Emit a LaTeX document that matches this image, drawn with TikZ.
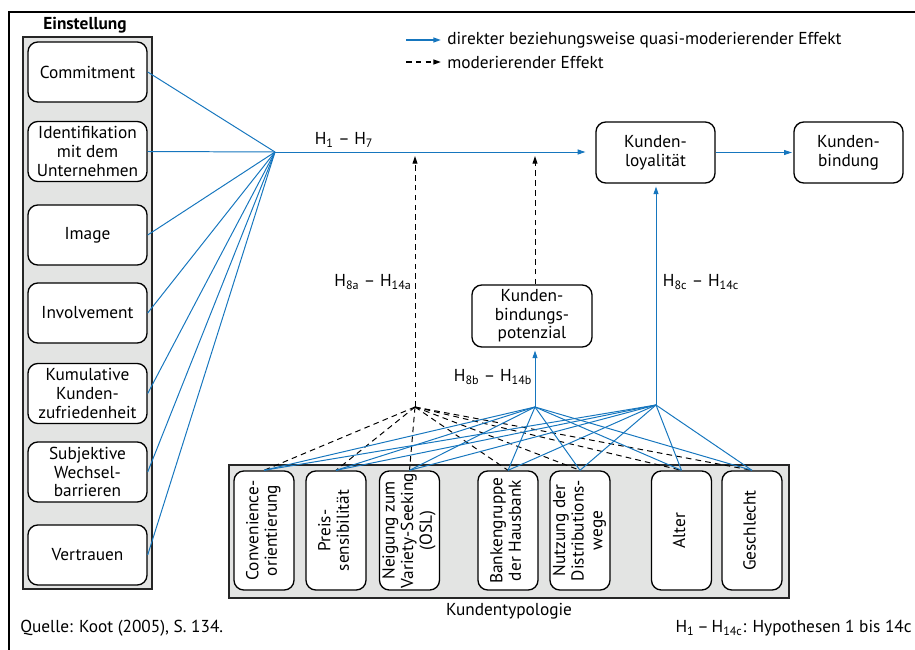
\documentclass[tikz,border=0pt]{standalone}
\usepackage{fontspec}
\setmainfont{PT Sans}
\usepackage{graphicx}
\usetikzlibrary{arrows.meta}
\definecolor{lblue}{RGB}{22,118,190}
\definecolor{boxgray}{RGB}{227,228,227}
\newcommand{\vtext}[1]{\rotatebox{90}{\begin{tabular}{@{}c@{}}#1\end{tabular}}}
\begin{document}
\begin{tikzpicture}[x=0.025cm,y=-0.025cm,
  every node/.style={font=\fontsize{12.3}{13.2}\selectfont},
  container/.style={draw=black!85, fill=boxgray, line width=0.9pt, inner sep=0pt},
  rbox/.style={draw, fill=white, rounded corners=7pt, line width=0.95pt, align=center, inner sep=0pt},
  lbox/.style={rbox, minimum width=2.975cm, minimum height=1.5cm},
  vbox/.style={rbox, minimum width=1.5cm, minimum height=2.975cm},
  bl/.style={draw=lblue, line width=0.7pt},
  dsh/.style={draw=black, line width=0.7pt, dash pattern=on 4pt off 3pt},
  tip/.style={-{Triangle[length=5.5pt,width=3.5pt]}},
  lbl/.style={inner sep=0pt}
]
\useasboundingbox (0,0) rectangle (915,650);
% frame
\draw[line width=0.8pt] (9,650) -- (9,12) -- (916,12);

% legend
\coordinate (la1) at (406,40); \coordinate (la2) at (441,40);
\coordinate (lb1) at (406,62); \coordinate (lb2) at (441,62);
\draw[bl,tip,line width=1.1pt] (la1) -- (la2);
\draw[dsh,tip,line width=1.1pt] (lb1) -- (lb2);
\node[lbl,anchor=west] (leg1) at (447,40) {direkter beziehungsweise quasi-moderierender Effekt};
\node[lbl,anchor=west] (leg2) at (447,62) {moderierender Effekt};

% Einstellung
\node[lbl,font=\fontsize{12.3}{13.2}\selectfont\bfseries] (einsttitle) at (85,25) {Einstellung};
\node[container, minimum width=3.225cm, minimum height=13.8cm] (einst) at (87.5,313) {};
\node[lbox] (commit) at (87.5,72) {Commitment};
\node[lbox] (ident) at (87.5,151.5) {Identifikation\\mit dem\\Unternehmen};
\node[lbox] (image) at (87.5,235) {Image};
\node[lbox] (invol) at (87.5,313) {Involvement};
\node[lbox] (kumul) at (87.5,393.5) {Kumulative\\Kunden-\\zufriedenheit};
\node[lbox] (subj) at (87.5,472) {Subjektive\\Wechsel-\\barrieren};
\node[lbox] (vertr) at (87.5,555) {Vertrauen};

% right boxes
\node[rbox, minimum width=2.975cm, minimum height=1.525cm] (loyal) at (655.5,152.5) {Kunden-\\loyalität};
\node[rbox, minimum width=2.725cm, minimum height=1.525cm] (bind) at (848.5,152.5) {Kunden-\\bindung};
\node[rbox, minimum width=3cm, minimum height=1.55cm] (kbp) at (532,316) {Kunden-\\bindungs-\\potenzial};

% hubs
\coordinate (h0) at (275,152);
\coordinate (h1) at (415,407);
\coordinate (h2) at (535,407);
\coordinate (h3) at (656,405);

% left fan
\foreach \n in {commit,image,invol,kumul,subj,vertr}
  \draw[bl] (\n.east) -- (h0);
\draw[bl] (ident.east) -- (h0);
\draw[bl,tip,shorten >=7pt] (h0) -- (h0 -| loyal.west);
\draw[bl,tip] (loyal.east) -- ([xshift=-1pt]bind.west);
\node[lbl] (lh17) at (344,140) {H\textsubscript{1} -- H\textsubscript{7}};

% bottom container
\node[container, minimum width=14cm, minimum height=3.325cm] (typ) at (509,531.5) {};
\node[vbox] (conv) at (264,530.5) {\vtext{Convenience-\\orientierung}};
\node[vbox] (preis) at (336,530.5) {\vtext{Preis-\\sensibilität}};
\node[vbox] (neig) at (409.5,530.5) {\vtext{Neigung zum\\Variety-Seeking\\(OSL)}};
\node[vbox] (bank) at (508,530.5) {\vtext{Bankengruppe\\der Hausbank}};
\node[vbox] (nutz) at (580,530.5) {\vtext{Nutzung der\\Distributions-\\wege}};
\node[vbox] (alter) at (681.5,530.5) {\vtext{Alter}};
\node[vbox] (gesch) at (752,530.5) {\vtext{Geschlecht}};
\node[lbl] (typlabel) at (509,611) {Kundentypologie};

% fans from typology
\foreach \n in {conv,preis,neig,bank,nutz,alter,gesch}{
  \draw[dsh] (h1) -- (\n.north);
}
\foreach \n in {conv,preis,neig,bank,nutz,alter,gesch}{
  \draw[bl] (h2) -- (\n.north);
  \draw[bl] (h3) -- (\n.north);
}

% verticals
\coordinate (t1) at (415,156);
\coordinate (t2) at (535,156);
\draw[dsh,tip] (h1) -- (t1);
\draw[dsh,tip] (kbp.north -| t2) -- (t2);
\draw[bl,tip] (h2) -- ([yshift=-2pt]kbp.south -| h2);
\draw[bl,tip] (h3) -- ([yshift=-2pt]loyal.south -| h3);
\node[lbl] (lh8a) at (373,282) {H\textsubscript{8a} -- H\textsubscript{14a}};
\node[lbl] (lh8b) at (493,377) {H\textsubscript{8b} -- H\textsubscript{14b}};
\node[lbl] (lh8c) at (701,282) {H\textsubscript{8c} -- H\textsubscript{14c}};

% footer
\node[lbl,anchor=west] (quelle) at (20,628) {Quelle: Koot (2005), S. 134.};
\node[lbl,anchor=east] (hyp) at (912,628) {H\textsubscript{1}\,--\,H\textsubscript{14c}: Hypothesen 1 bis 14c};
\end{tikzpicture}
\end{document}
